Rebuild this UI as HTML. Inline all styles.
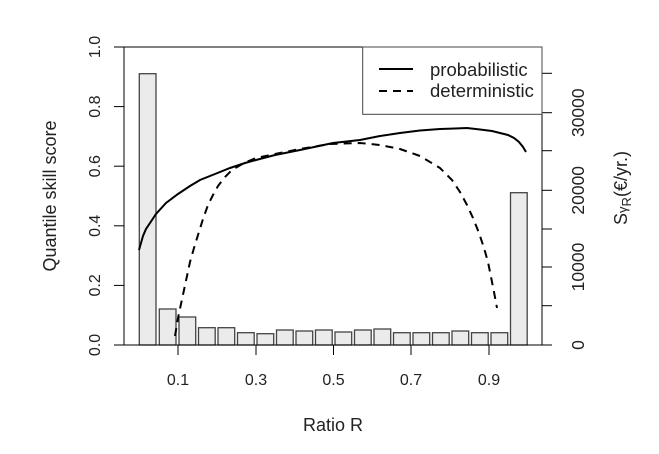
<!DOCTYPE html>
<html><head><meta charset="utf-8"><style>
body{margin:0;background:#fff}
svg text{font-family:"Liberation Sans",Arial,sans-serif;fill:#222}
</style></head><body>
<svg width="659" height="449" viewBox="0 0 659 449" xmlns="http://www.w3.org/2000/svg">
<rect width="659" height="449" fill="#fff"/>
<g fill="#ebebeb" stroke="#444" stroke-width="1.3">
<rect x="139.3" y="73.7" width="16.7" height="271.3"/>
<rect x="159.3" y="309" width="16.7" height="36"/>
<rect x="179" y="317" width="16.7" height="28"/>
<rect x="198.5" y="327.7" width="16.7" height="17.3"/>
<rect x="218" y="327.7" width="16.7" height="17.3"/>
<rect x="237.5" y="332.7" width="16.7" height="12.3"/>
<rect x="257" y="333.7" width="16.7" height="11.3"/>
<rect x="276.5" y="330" width="16.7" height="15"/>
<rect x="296" y="331" width="16.7" height="14"/>
<rect x="315.5" y="330" width="16.7" height="15"/>
<rect x="335" y="332" width="16.7" height="13"/>
<rect x="354.5" y="330" width="16.7" height="15"/>
<rect x="374" y="329" width="16.7" height="16"/>
<rect x="393.5" y="332.7" width="16.7" height="12.3"/>
<rect x="413" y="332.7" width="16.7" height="12.3"/>
<rect x="432.5" y="332.7" width="16.7" height="12.3"/>
<rect x="452" y="331" width="16.7" height="14"/>
<rect x="471.5" y="332.7" width="16.7" height="12.3"/>
<rect x="491" y="332.7" width="16.7" height="12.3"/>
<rect x="510.5" y="192.7" width="16.7" height="152.3"/>
</g>
<g fill="none" stroke="#000" stroke-width="2">
<polyline points="139,250 141,243 143,236 146,229 150,223 156,214 166,203 178,194 190,186 200,180 215,174 230,168 245,163 256,160 275,155 300,150 333,143 360,140 380,136 400,133 420,130.5 440,129 455,128.5 467,128 480,129.5 492,131 500,133 508,135 514,138 519,142 523,147 526,152"/>
<polyline stroke-dasharray="8,6" points="175,336 178,318 181,304 184,290 187,276 190,262 194,248 198,235 203,219 208,205 213,195 218,186 225,177 232,170 244,163 256,158 275,154 300,149 330,144 360,143 380,145 400,149 420,156 440,168 452,180 460,192 467,205 473,218 479,233 484,248 488,262 491,277 494,292 497,308"/>
</g>
<g stroke="#000" stroke-width="1" fill="none">
<line x1="124" y1="47" x2="124" y2="345"/>
<line x1="114" y1="47" x2="542" y2="47"/>
<line x1="542" y1="47" x2="542" y2="345"/>
<line x1="114" y1="345" x2="552" y2="345"/>
<line x1="114" y1="285.4" x2="124" y2="285.4"/>
<line x1="114" y1="225.8" x2="124" y2="225.8"/>
<line x1="114" y1="166.2" x2="124" y2="166.2"/>
<line x1="114" y1="106.6" x2="124" y2="106.6"/>
<line x1="178" y1="345" x2="178" y2="355"/>
<line x1="256" y1="345" x2="256" y2="355"/>
<line x1="333.5" y1="345" x2="333.5" y2="355"/>
<line x1="411" y1="345" x2="411" y2="355"/>
<line x1="489" y1="345" x2="489" y2="355"/>
<line x1="542" y1="305.7" x2="552" y2="305.7"/>
<line x1="542" y1="267" x2="552" y2="267"/>
<line x1="542" y1="229" x2="552" y2="229"/>
<line x1="542" y1="190.3" x2="552" y2="190.3"/>
<line x1="542" y1="150.7" x2="552" y2="150.7"/>
<line x1="542" y1="112.7" x2="552" y2="112.7"/>
<line x1="542" y1="73.3" x2="552" y2="73.3"/>
</g>
<rect x="362.7" y="47" width="179.3" height="67.3" fill="#fff" stroke="#444" stroke-width="1"/>
<line x1="379" y1="69" x2="413" y2="69" stroke="#000" stroke-width="2"/>
<line x1="379" y1="91" x2="413" y2="91" stroke="#000" stroke-width="2" stroke-dasharray="8,6"/>
<text x="430" y="76" font-size="18.5">probabilistic</text>
<text x="430" y="97" font-size="18.5">deterministic</text>
<g font-size="16" text-anchor="middle">
<text transform="translate(100,345) rotate(-90)">0.0</text>
<text transform="translate(100,285.4) rotate(-90)">0.2</text>
<text transform="translate(100,225.8) rotate(-90)">0.4</text>
<text transform="translate(100,166.2) rotate(-90)">0.6</text>
<text transform="translate(100,106.6) rotate(-90)">0.8</text>
<text transform="translate(100,47) rotate(-90)">1.0</text>
<text x="178" y="385">0.1</text>
<text x="256" y="385">0.3</text>
<text x="333.5" y="385">0.5</text>
<text x="411" y="385">0.7</text>
<text x="489" y="385">0.9</text>
</g>
<g font-size="17.5" text-anchor="middle">
<text transform="translate(584,345) rotate(-90)">0</text>
<text transform="translate(584,267) rotate(-90)">10000</text>
<text transform="translate(584,190.3) rotate(-90)">20000</text>
<text transform="translate(584,112.7) rotate(-90)">30000</text>
</g>
<g font-size="18" text-anchor="middle">
<text x="333" y="431">Ratio R</text>
<text transform="translate(56,196) rotate(-90)">Quantile skill score</text>
<text transform="translate(627,188) rotate(-90)">S<tspan font-size="13">γ</tspan><tspan font-size="13" dy="4">R</tspan><tspan dy="-4">(€/yr.)</tspan></text>
</g>
</svg>
</body></html>
